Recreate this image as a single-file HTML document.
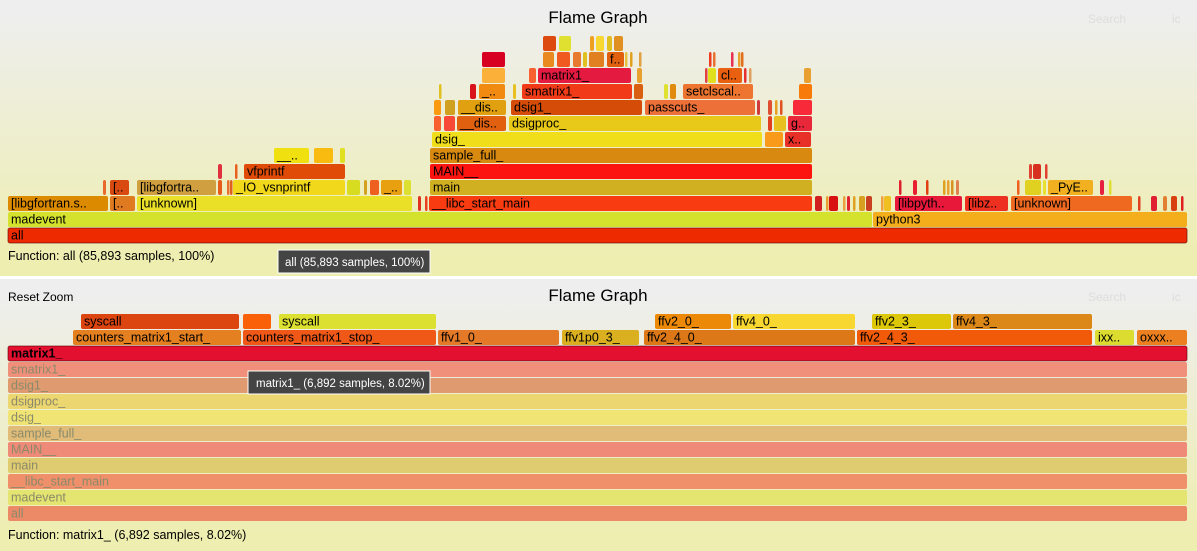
<!DOCTYPE html>
<html><head><meta charset="utf-8">
<style>
html,body{margin:0;padding:0;background:#fff;}
svg{display:block;font-family:"Liberation Sans","DejaVu Sans",sans-serif;}
</style></head>
<body>
<svg id="fg" width="1197" height="551" viewBox="0 0 1197 551" xmlns="http://www.w3.org/2000/svg">
<defs>
<linearGradient id="bg" x1="0" y1="0" x2="0" y2="1"><stop offset="5%" stop-color="#eeeeee"/><stop offset="95%" stop-color="#eeeeb0"/></linearGradient>
</defs>
<rect x="0" y="0" width="1197" height="276" fill="url(#bg)"/>
<rect x="0" y="279" width="1197" height="272" fill="url(#bg)"/>
<text x="598" y="23" text-anchor="middle" font-size="17" fill="#000">Flame Graph</text>
<text x="1088" y="23" font-size="12" fill="#ddd">Search</text>
<text x="1172" y="23" font-size="12" fill="#ddd">ic</text>
<text x="8" y="260" font-size="12.5" fill="#000">Function: all (85,893 samples, 100%)</text>
<text x="8" y="301" font-size="12" fill="#000">Reset Zoom</text>
<text x="598" y="301" text-anchor="middle" font-size="17" fill="#000">Flame Graph</text>
<text x="1088" y="301" font-size="12" fill="#ddd">Search</text>
<text x="1172" y="301" font-size="12" fill="#ddd">ic</text>
<text x="8" y="539" font-size="12.5" fill="#000">Function: matrix1_ (6,892 samples, 8.02%)</text>
<g id="top"></g>
<g id="bot"></g>
<g>
<rect x="278" y="250" width="152" height="23" fill="#444" stroke="#fff" stroke-width="1"/>
<text x="285" y="266" font-size="11.5" fill="#fff">all (85,893 samples, 100%)</text>
</g>
<g>
<rect x="248" y="371" width="182" height="23" fill="#444" stroke="#fff" stroke-width="1"/>
<text x="256" y="387" font-size="11.5" fill="#fff">matrix1_ (6,892 samples, 8.02%)</text>
</g>
</svg>
<script>
// Frame extents expressed in sample units where total = 1180 units
const total = 1180;
// top panel rows: [start, end, label, color]
const topRow0 = [[0,1180,"all","#ee2a00"]];
const topRow1 = [[0,865,"madevent","#d4e22e"],[865,1180,"python3","#f5ae1b"]];
const topRow2 = [[0,101,"[libgfortran.s..","#dc8a00"],[102,128,"[..","#e07a20"],[129,405,"[unknown]","#eae028"],[410,414,"","#e03020"],[417,420,"","#e84020"],[421,805,"__libc_start_main","#f83b10"],[807,815,"","#d02020"],[818,820,"","#e8a030"],[821,831,"","#d81010"],[835,837,"","#e8a040"],[839,843,"","#e02030"],[845,846,"","#e0a020"],[851,858,"","#d8a020"],[858,865,"","#c84020"],[873,875,"","#f0a040"],[876,884,"","#f0c020"],[887,955,"[libpyth..","#e8183a"],[957,1001,"[libz..","#ee3020"],[1003,1125,"[unknown]","#ef6a20"],[1130,1132,"","#e04020"],[1143,1150,"","#e02030"],[1155,1160,"","#e08030"],[1163,1170,"","#d84010"],[1173,1176,"","#e02020"]];
const topRow3 = [[95,99,"","#e86a2a"],[102,122,"[..","#d84a10"],[129,209,"[libgfortra..","#d0a040"],[210,215,"","#e65a1a"],[219,221,"","#e87030"],[222,224,"","#e06020"],[225,338,"_IO_vsnprintf","#f2d81a"],[339,353,"","#d8dc20"],[356,360,"","#d4a020"],[362,372,"","#ee6020"],[373,395,"_..","#e8a010"],[396,404,"","#dce030"],[422,805,"main","#d0b020"],[891,893,"","#e02030"],[905,910,"","#e82030"],[918,920,"","#e04010"],[935,938,"","#e0a020"],[939,941,"","#e8a030"],[943,946,"","#d89020"],[948,952,"","#e08050"],[1009,1011,"","#f06020"],[1017,1034,"","#e0d020"],[1035,1039,"","#e8e030"],[1040,1086,"_PyE..","#f0b020"],[1092,1097,"","#e82040"],[1101,1104,"","#e0e030"]];
const topRow4 = [[210,215,"","#e03040"],[227,230,"","#e86020"],[236,338,"vfprintf","#e04c08"],[422,805,"MAIN__","#fc1410"],[1021,1025,"","#e04030"],[1025,1034,"","#d83020"],[1037,1039,"","#e04030"]];
const topRow5 = [[266,302,"__..","#f0e010"],[306,326,"","#fabb10"],[332,338,"","#e0e020"],[422,805,"sample_full_","#d88a10"]];
const topRow6 = [[424,755,"dsig_","#f0de1a"],[757,776,"","#fa9a1a"],[777,804,"x..","#e83028"]];
const topRow7 = [[426,434,"","#f86030"],[436,448,"","#f84838"],[449,499,"__dis..","#e06010"],[501,754,"dsigproc_","#e8c818"],[760,765,"","#e04020"],[766,779,"","#e8c020"],[780,805,"g..","#e8283a"]];
const topRow8 = [[426,434,"","#fa9a10"],[437,448,"","#d0a020"],[450,499,"__dis..","#e0a010"],[503,635,"dsig1_","#d44c08"],[637,748,"passcuts_","#ec7038"],[749,753,"","#d03a3a"],[760,765,"","#e05030"],[767,769,"","#e8a020"],[772,775,"","#e05020"],[785,805,"","#f82a3a"]];
const topRow9 = [[431,433,"","#e0c020"],[462,469,"","#d8141a"],[471,498,"_..","#f08a10"],[505,509,"","#e8c020"],[514,625,"smatrix1_","#f03a18"],[626,636,"","#d86010"],[656,661,"","#e0e030"],[662,669,"","#e08a10"],[675,746,"setclscal..","#ee7530"],[791,805,"","#f87a08"]];
const topRow10 = [[474,498,"","#fbb03a"],[521,529,"","#f86030"],[530,624,"matrix1_","#e41a40"],[629,635,"","#e8a030"],[697,699,"","#e04040"],[700,709,"","#e0e020"],[710,735,"cl..","#e86010"],[736,738,"","#e83030"],[741,743,"","#e0a060"],[796,804,"","#e8a030"]];
const topRow11 = [[474,498,"","#d80020"],[535,547,"","#e88a20"],[549,563,"","#f05a20"],[565,574,"","#e87a30"],[575,580,"","#e0c020"],[581,597,"","#e08020"],[599,617,"f..","#e06010"],[617,620,"","#e8c040"],[622,624,"","#e0a020"],[631,633,"","#e0a040"],[701,704,"","#f03a20"],[705,708,"","#e87030"],[723,725,"","#e83050"],[730,733,"","#e8a030"],[733,735,"","#e07020"]];
const topRow12 = [[535,549,"","#dc4a10"],[551,564,"","#e0e030"],[582,587,"","#f0a020"],[588,597,"","#f8d830"],[599,605,"","#e0c020"],[606,616,"","#e09020"]];
const topRows = [topRow0,topRow1,topRow2,topRow3,topRow4,topRow5,topRow6,topRow7,topRow8,topRow9,topRow10,topRow11,topRow12];

// bottom (zoomed) panel rows
const botRow0 = [[0,1180,"all","#ec8a68"]];
const botRow1 = [[0,1180,"madevent","#e4e470"]];
const botRow2 = [[0,1180,"__libc_start_main","#f0906a"]];
const botRow3 = [[0,1180,"main","#e0cc70"]];
const botRow4 = [[0,1180,"MAIN__","#f08a78"]];
const botRow5 = [[0,1180,"sample_full_","#e0bc78"]];
const botRow6 = [[0,1180,"dsig_","#f0e474"]];
const botRow7 = [[0,1180,"dsigproc_","#ecd670"]];
const botRow8 = [[0,1180,"dsig1_","#e09a70"]];
const botRow9 = [[0,1180,"smatrix1_","#f0907a"]];
const botRow10 = [[0,1180,"matrix1_","#e41030"]];
const botRow11 = [[65,234,"counters_matrix1_start_","#e48020"],[235,429,"counters_matrix1_stop_","#f05818"],[430,552,"ffv1_0_","#e47a28"],[554,632,"ffv1p0_3_","#dab020"],[636,848,"ffv2_4_0_","#dc7818"],[849,1085,"ffv2_4_3_","#f05a08"],[1087,1127,"ixx..","#dcdc30"],[1129,1180,"oxxx..","#ec8020"]];
const botRow12 = [[73,232,"syscall","#dc4410"],[235,264,"","#fa6008"],[271,429,"syscall","#dce030"],[647,724,"ffv2_0_","#ec8a08"],[725,848,"ffv4_0_","#f8d830"],[864,944,"ffv2_3_","#dcc808"],[945,1085,"ffv4_3_","#dc8818"]];
const botRows = [botRow0,botRow1,botRow2,botRow3,botRow4,botRow5,botRow6,botRow7,botRow8,botRow9,botRow10,botRow11,botRow12];

const NS = "http://www.w3.org/2000/svg";
function xScale(v){ return 8 + v/total*1180; }
function draw(gid, rows, baseY, fadedBelow, focusRow){
  const g = document.getElementById(gid);
  rows.forEach((row, d) => {
    row.forEach(f => {
      const x = xScale(f[0]), w = xScale(f[1]) - x - 1;
      const y = baseY - d*16;
      const grp = document.createElementNS(NS, "g");
      
      
      const r = document.createElementNS(NS, "rect");
      r.setAttribute("x", x); r.setAttribute("y", y);
      r.setAttribute("width", Math.max(w,2.5)); r.setAttribute("height", 15);
      r.setAttribute("rx", 2); r.setAttribute("ry", 2);
      r.setAttribute("fill", f[3]);
      if (d === focusRow) { r.setAttribute("stroke", "rgba(90,0,0,0.6)"); r.setAttribute("stroke-width", "1"); }
      grp.appendChild(r);
      if (f[2]) {
        const t = document.createElementNS(NS, "text");
        t.setAttribute("x", x + 3); t.setAttribute("y", y + 11.5);
        t.setAttribute("font-size", "12.5");
        t.setAttribute("fill", d < fadedBelow ? "#8a8a6a" : "#000");
        if (d === focusRow && gid === "bot") t.setAttribute("font-weight", "bold");
        t.textContent = f[2];
        grp.appendChild(t);
      }
      g.appendChild(grp);
    });
  });
}
draw("top", topRows, 228, 0, 0);
draw("bot", botRows, 506, 10, 10);
</script>
</body></html>
